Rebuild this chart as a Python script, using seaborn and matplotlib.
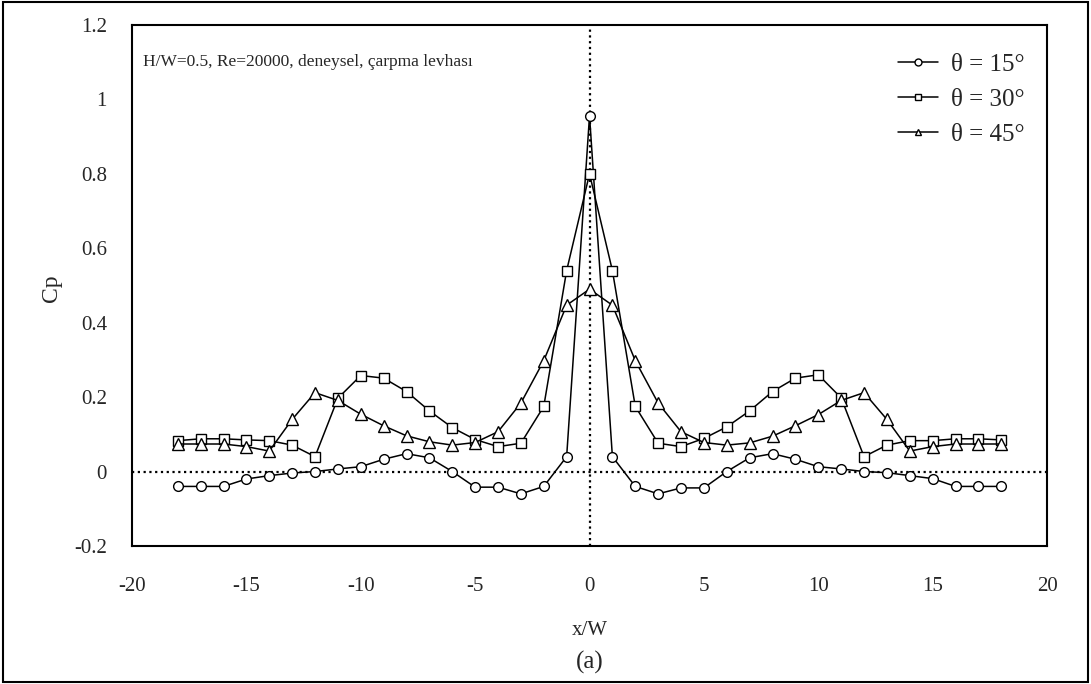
import numpy as np
import pandas as pd
import matplotlib
matplotlib.use("Agg")
import matplotlib.pyplot as plt
import seaborn as sns

# x/W positions and Cp values
x_w = list(range(-18, 19))

cp_15 = [-0.040, -0.040, -0.040, -0.020, -0.011, -0.004, 0.000, 0.007, 0.013, 0.033,
         0.048, 0.037, 0.000, -0.042, -0.042, -0.060, -0.040, 0.040, 0.956, 0.040,
         -0.040, -0.060, -0.044, -0.044, 0.000, 0.037, 0.048, 0.033, 0.013, 0.007,
         0.000, -0.003, -0.011, -0.019, -0.040, -0.040, -0.040]

cp_30 = [0.083, 0.088, 0.088, 0.085, 0.083, 0.071, 0.040, 0.197, 0.258, 0.251,
         0.215, 0.163, 0.118, 0.086, 0.067, 0.076, 0.175, 0.540, 0.800, 0.540,
         0.175, 0.076, 0.067, 0.089, 0.120, 0.163, 0.215, 0.251, 0.260, 0.198,
         0.040, 0.071, 0.083, 0.083, 0.088, 0.088, 0.085]

cp_45 = [0.074, 0.074, 0.074, 0.067, 0.055, 0.140, 0.212, 0.191, 0.154, 0.123,
         0.096, 0.080, 0.071, 0.078, 0.107, 0.184, 0.298, 0.447, 0.490, 0.447,
         0.298, 0.184, 0.107, 0.078, 0.071, 0.077, 0.095, 0.123, 0.153, 0.191,
         0.212, 0.140, 0.055, 0.067, 0.074, 0.074, 0.074]

labels = ["θ = 15°", "θ = 30°", "θ = 45°"]
markers = ["o", "s", "^"]
x_ticks = [-20, -15, -10, -5, 0, 5, 10, 15, 20]
y_ticks = [-0.2, 0, 0.2, 0.4, 0.6, 0.8, 1, 1.2]
y_ticklabels = ["-0.2", "0", "0.2", "0.4", "0.6", "0.8", "1", "1.2"]
x_ticklabels = ["-20", "-15", "-10", "-5", "0", "5", "10", "15", "20"]

sns.set_style("white")
plt.rcParams["font.family"] = ["Liberation Serif", "DejaVu Serif"]

fig = plt.figure(figsize=(10.91, 6.84), dpi=100)
ax = fig.add_axes([0.121, 0.2018, 0.8387, 0.7617])

for vals, lab, m in zip([cp_15, cp_30, cp_45], labels, markers):
    sns.lineplot(x=x_w, y=vals, ax=ax, color="black", linewidth=1.1,
                 marker=m, markersize=7 if m != "^" else 8,
                 markerfacecolor="white", markeredgecolor="black",
                 markeredgewidth=1.0, label=lab)

# dotted reference lines
ax.axhline(0, color="black", linestyle=(0, (1, 1.6)), linewidth=1.6, zorder=0)
ax.axvline(0, color="black", linestyle=(0, (1, 1.6)), linewidth=1.6, zorder=0)

ax.set_xlim(-20, 20)
ax.set_ylim(-0.2, 1.2)
ax.set_xticks(x_ticks)
ax.set_xticklabels(x_ticklabels)
ax.set_yticks(y_ticks)
ax.set_yticklabels(y_ticklabels)
ax.tick_params(axis="x", direction="in", length=5, width=1, labelsize=15, pad=22)
ax.tick_params(axis="y", direction="in", length=5, width=1, labelsize=15, pad=18)
for s in ax.spines.values():
    s.set_linewidth(1.5)
    s.set_color("black")

ax.set_xlabel("x/W", fontsize=15, labelpad=18)
ax.set_ylabel("Cp", fontsize=17)
ax.yaxis.set_label_coords(-0.076, 0.495)

ax.text(0.012, 0.928, "H/W=0.5, Re=20000, deneysel, çarpma levhası",
        transform=ax.transAxes, fontsize=12.5, va="center", ha="left")

leg = ax.legend(loc="upper right", frameon=False, fontsize=18,
                handlelength=1.6, handletextpad=0.5, labelspacing=0.5,
                bbox_to_anchor=(1.0, 0.988))
for h in leg.legend_handles:
    h.set_markersize(5)

fig.text(0.541, 0.031, "(a)", fontsize=18, ha="center", va="center")

# outer border around the whole figure
fig.patches.append(plt.Rectangle((0.003, 0.003), 0.994, 0.994, transform=fig.transFigure,
                                 fill=False, edgecolor="black", linewidth=1.5))

fig.savefig("out.png", dpi=100)
